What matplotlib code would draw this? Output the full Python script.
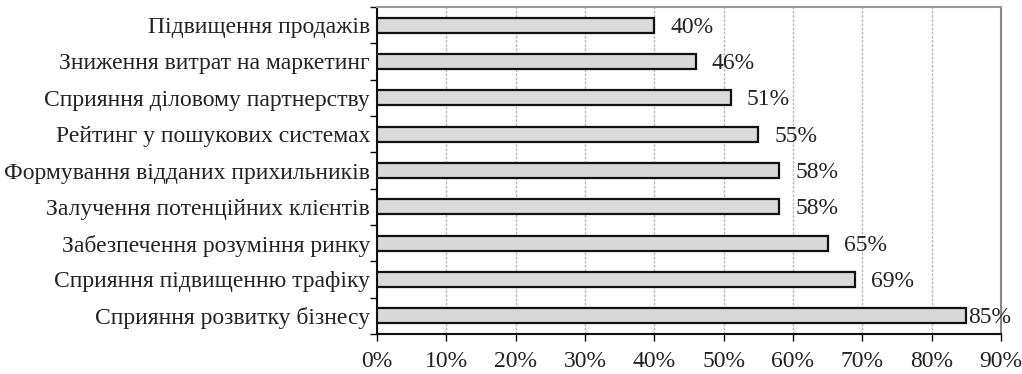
import matplotlib
matplotlib.use("Agg")
import matplotlib.pyplot as plt
from matplotlib.ticker import MultipleLocator, FuncFormatter, FixedLocator

categories = [
    "Підвищення продажів",
    "Зниження витрат на маркетинг",
    "Сприяння діловому партнерству",
    "Рейтинг у пошукових системах",
    "Формування відданих прихильників",
    "Залучення потенційних клієнтів",
    "Забезпечення розуміння ринку",
    "Сприяння підвищенню трафіку",
    "Сприяння розвитку бізнесу",
]
values = [40, 46, 51, 55, 58, 58, 65, 69, 85]
label_pads = [16, 16, 16, 16, 16, 16, 16, 16, 2]

plt.rcParams['font.family'] = ['Liberation Serif', 'DejaVu Serif']

fig = plt.figure(figsize=(10.22, 3.74), dpi=100)
ax = fig.add_axes([377/1022, 1 - 334/374, 624/1022, 327/374])

n = len(categories)
ypos = list(range(n))[::-1]
bars = ax.barh(ypos, values, height=0.41, color='#d9d9d9', edgecolor='#111111',
               linewidth=1.6, zorder=3)

for b, v, p in zip(bars, values, label_pads):
    ax.annotate(f"{v}%", (b.get_width(), b.get_y() + b.get_height() / 2),
                xytext=(p, -2), textcoords='offset pixels', ha='left', va='center',
                fontsize=17, color='#222222', zorder=4)

ax.set_xlim(0, 90)
ax.set_ylim(-0.5, n - 0.5)
ax.xaxis.set_major_locator(MultipleLocator(10))
ax.xaxis.set_major_formatter(FuncFormatter(lambda x, _: f"{int(x)}%"))
ax.set_yticks(ypos)
ax.set_yticklabels(categories, fontsize=17, color='#222222')
ax.yaxis.set_minor_locator(FixedLocator([i + 0.5 for i in range(-1, n)]))
ax.tick_params(axis='y', which='major', length=0, pad=5)
ax.tick_params(axis='y', which='minor', length=5, width=1, direction='out')
ax.tick_params(axis='x', length=5, width=1, labelsize=17, pad=7, labelcolor='#222222')

ax.grid(axis='x', color='#bbbbbb', linestyle=(0, (2, 1)), linewidth=1.0, zorder=0)
ax.spines['top'].set_color('#999999')
ax.spines['right'].set_color('#888888')
ax.spines['left'].set_color('#111111')
ax.spines['bottom'].set_color('#111111')
for s in ax.spines.values():
    s.set_linewidth(1.5)

fig.savefig("out.png", dpi=100)
